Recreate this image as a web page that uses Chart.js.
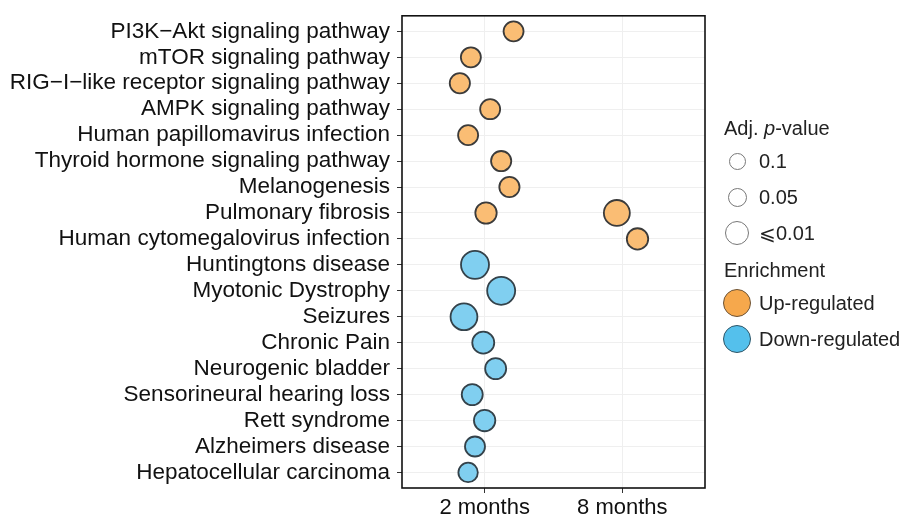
<!DOCTYPE html>
<html>
<head>
<meta charset="utf-8">
<script src="https://cdn.jsdelivr.net/npm/chart.js@4"></script>
<style>
  body { margin: 0; background: #fff; font-family: "Liberation Sans", Arial, sans-serif; }
  #wrap { position: relative; width: 905px; height: 517px; }
  #legend { position: absolute; left: 724px; top: 113px; color: #222; font-size: 20px; }
  .ttl { height: 30px; line-height: 30px; }
  .row { position: relative; height: 36px; line-height: 36px; padding-left: 35px; }
  .dot { position: absolute; border-radius: 50%; box-sizing: border-box; }
</style>
</head>
<body>
<div id="wrap">
  <canvas id="chart" width="905" height="517"></canvas>
  <div id="legend"></div>
</div>
<script>
// pathways, top to bottom
var pathways = [
  'PI3K\u2212Akt signaling pathway',
  'mTOR signaling pathway',
  'RIG\u2212I\u2212like receptor signaling pathway',
  'AMPK signaling pathway',
  'Human papillomavirus infection',
  'Thyroid hormone signaling pathway',
  'Melanogenesis',
  'Pulmonary fibrosis',
  'Human cytomegalovirus infection',
  'Huntingtons disease',
  'Myotonic Dystrophy',
  'Seizures',
  'Chronic Pain',
  'Neurogenic bladder',
  'Sensorineural hearing loss',
  'Rett syndrome',
  'Alzheimers disease',
  'Hepatocellular carcinoma'
];
var timepoints = ['2 months', '8 months'];

// up-regulated terms (x: 1 = 2 months, 2 = 8 months, jittered)
var upTerms = ['PI3K\u2212Akt signaling pathway', 'mTOR signaling pathway', 'RIG\u2212I\u2212like receptor signaling pathway',
  'AMPK signaling pathway', 'Human papillomavirus infection', 'Thyroid hormone signaling pathway', 'Melanogenesis',
  'Pulmonary fibrosis', 'Pulmonary fibrosis', 'Human cytomegalovirus infection'];
var upX = [1.21, 0.90, 0.82, 1.04, 0.88, 1.12, 1.18, 1.01, 1.96, 2.11];
var upPadj = [0.063, 0.063, 0.06, 0.063, 0.063, 0.06, 0.06, 0.046, 0.016, 0.046];

// down-regulated terms
var downTerms = ['Huntingtons disease', 'Myotonic Dystrophy', 'Seizures', 'Chronic Pain', 'Neurogenic bladder',
  'Sensorineural hearing loss', 'Rett syndrome', 'Alzheimers disease', 'Hepatocellular carcinoma'];
var downX = [0.93, 1.12, 0.85, 0.99, 1.08, 0.91, 1.00, 0.93, 0.88];
var downPadj = [0.01, 0.01, 0.013, 0.04, 0.05, 0.05, 0.046, 0.063, 0.072];

var sizeBreaks = [0.1, 0.05, 0.01];
var sizeLabels = ['0.1', '0.05', '\u2a7d0.01'];

var FONT = '"Liberation Sans", Arial, sans-serif';

function radius(p) { return 4 + 5 * (-Math.log10(p)); }

function pts(terms, xs) {
  return terms.map(function (t, i) { return { x: xs[i], y: pathways.indexOf(t) + 1 }; });
}

var frame = {
  id: 'frame',
  afterDraw: function (chart) {
    var a = chart.chartArea, c = chart.ctx;
    c.save();
    c.strokeStyle = '#111';
    c.lineWidth = 1.6;
    c.strokeRect(a.left, a.top, a.right - a.left, a.bottom - a.top);
    c.restore();
  }
};

var ctx = document.getElementById('chart').getContext('2d');
new Chart(ctx, {
  type: 'scatter',
  data: {
    datasets: [{
      label: 'Up-regulated',
      data: pts(upTerms, upX),
      pointRadius: upPadj.map(radius),
      backgroundColor: 'rgb(250,189,116)',
      borderColor: '#3b3b3b',
      borderWidth: 1.8
    }, {
      label: 'Down-regulated',
      data: pts(downTerms, downX),
      pointRadius: downPadj.map(radius),
      backgroundColor: 'rgb(128,207,240)',
      borderColor: '#34424a',
      borderWidth: 1.8
    }]
  },
  options: {
    responsive: false,
    animation: false,
    layout: { padding: { top: 14, right: 200, bottom: 0, left: 0 } },
    plugins: { legend: { display: false }, tooltip: { enabled: false } },
    scales: {
      x: {
        type: 'linear',
        min: 0.4,
        max: 2.6,
        afterBuildTicks: function (s) { s.ticks = [{ value: 1 }, { value: 2 }]; },
        afterFit: function (s) { s.height = 29; s.paddingLeft = 0; s.paddingRight = 0; },
        ticks: {
          padding: 2,
          color: '#111',
          font: { family: FONT, size: 22 },
          callback: function (v) { return timepoints[v - 1]; }
        },
        grid: { color: '#efefef', tickColor: '#333', tickLength: 5 },
        border: { display: false }
      },
      y: {
        type: 'linear',
        reverse: true,
        min: 0.4,
        max: 18.6,
        afterBuildTicks: function (s) { s.ticks = pathways.map(function (_, i) { return { value: i + 1 }; }); },
        afterFit: function (s) { s.width = 402; s.paddingTop = 0; s.paddingBottom = 0; },
        ticks: {
          autoSkip: false,
          padding: 7,
          color: '#111',
          font: { family: FONT, size: 22.5 },
          callback: function (v) { return pathways[v - 1]; }
        },
        grid: { color: '#efefef', tickColor: '#333', tickLength: 5 },
        border: { display: false }
      }
    }
  },
  plugins: [frame]
});

// legend
var lg = document.getElementById('legend');
var html = '<div class="ttl">Adj. <i>p</i>-value</div>';
var legR = [8.5, 9.5, 12];
sizeBreaks.forEach(function (b, i) {
  var r = legR[i];
  html += '<div class="row"><span class="dot" style="left:' + (13 - r) + 'px;top:' + (18 - r) + 'px;width:' + (2 * r) +
    'px;height:' + (2 * r) + 'px;border:1.5px solid #777;background:#fff"></span>' + sizeLabels[i] + '</div>';
});
html += '<div class="ttl" style="margin-top:4px">Enrichment</div>';
[['Up-regulated', 'rgb(246,168,76)', '#6b5236'], ['Down-regulated', 'rgb(84,192,236)', '#2f5566']].forEach(function (e) {
  html += '<div class="row"><span class="dot" style="left:-1px;top:4px;width:28px;height:28px;border:1.5px solid ' + e[2] +
    ';background:' + e[1] + '"></span>' + e[0] + '</div>';
});
lg.innerHTML = html;
</script>
</body>
</html>
